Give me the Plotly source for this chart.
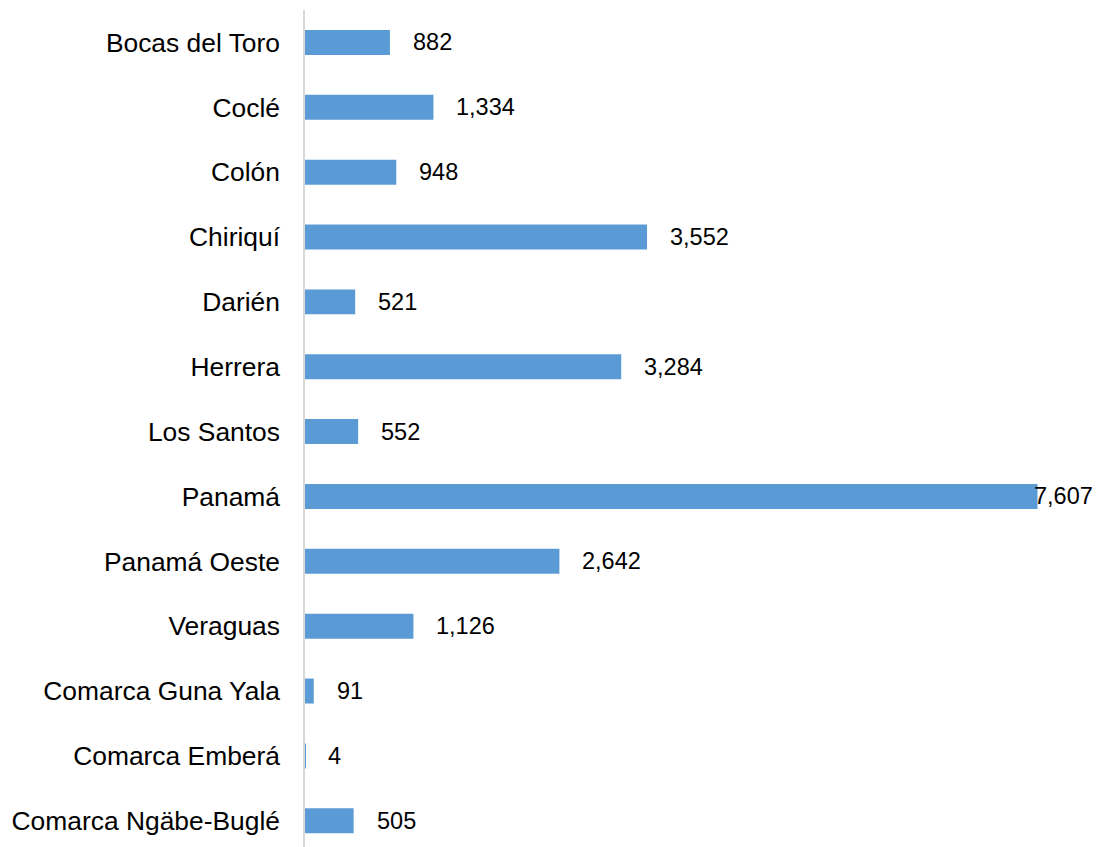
import plotly.graph_objects as go

categories = ["Bocas del Toro", "Coclé", "Colón", "Chiriquí", "Darién", "Herrera",
              "Los Santos", "Panamá", "Panamá Oeste", "Veraguas",
              "Comarca Guna Yala", "Comarca Emberá", "Comarca Ngäbe-Buglé"]
values = [882, 1334, 948, 3552, 521, 3284, 552, 7607, 2642, 1126, 91, 4, 505]

# page body has an 8px default margin
W, H = 1092, 839
left, top = 297, 2
px_per_unit = 732.5 / 7607
xmax = (W - left) / px_per_unit
band = 64.86
ybottom = -0.5 + (H - top) / band

fig = go.Figure()
fig.add_trace(go.Bar(
    x=values, y=categories, orientation="h",
    marker=dict(color="#5B9BD5", line=dict(width=0)),
    hoverinfo="skip",
))

maxv = max(values)
for c, v in zip(categories, values):
    fig.add_annotation(
        x=v, y=c, text=f"{v:,}", showarrow=False,
        xanchor="left", yanchor="middle",
        xshift=(-5 if v == maxv else 22),
        borderpad=0,
        font=dict(family="Liberation Sans, Arial, sans-serif", size=23.5, color="#000000"),
    )

fig.update_layout(
    width=W, height=H,
    margin=dict(l=left, r=0, t=top, b=0, autoexpand=False),
    paper_bgcolor="white", plot_bgcolor="white",
    bargap=0.615,
    showlegend=False,
    font=dict(family="Liberation Sans, Arial, sans-serif", color="#000000"),
)
fig.update_xaxes(range=[0, xmax], visible=False, showgrid=False, zeroline=False)
fig.update_yaxes(
    range=[ybottom, -0.5],
    showline=True, linecolor="#D9D9D9", linewidth=1.5,
    showgrid=False, zeroline=False, ticks="",
    ticklabelstandoff=18,
    tickfont=dict(family="Liberation Sans, Arial, sans-serif", size=26.4, color="#000000"),
)

fig.write_html("out.html")
